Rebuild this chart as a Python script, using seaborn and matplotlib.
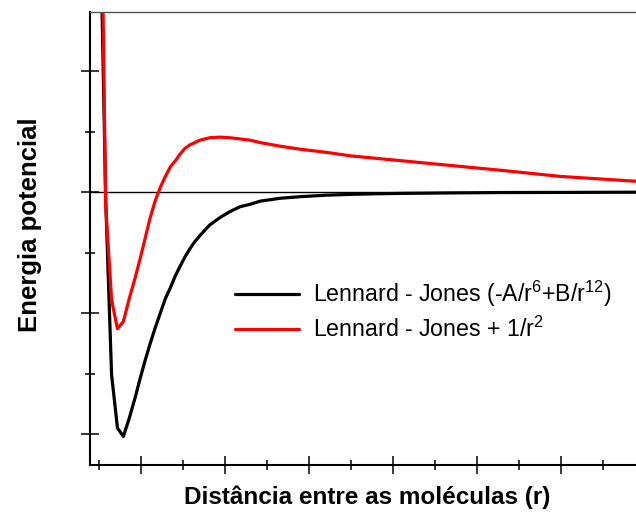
import matplotlib
matplotlib.use('Agg')
import matplotlib.pyplot as plt
from matplotlib.ticker import MultipleLocator
import seaborn as sns

# distance (arbitrary units) and potential energy
distance = [0.52, 0.58, 0.65, 0.72, 0.79, 0.86, 0.93, 0.99, 1.05, 1.11, 1.17, 1.23,
            1.29, 1.35, 1.41, 1.46, 1.52, 1.58, 1.64, 1.70, 1.82, 1.94, 2.06, 2.18,
            2.30, 2.42, 2.66, 2.90, 3.20, 3.50, 3.80, 4.10, 4.70, 5.30, 6.00, 6.90]
lj = [2.10, -0.07, -1.51, -1.95, -2.02, -1.87, -1.70, -1.54, -1.39, -1.25, -1.12, -1.00,
      -0.88, -0.79, -0.69, -0.62, -0.54, -0.47, -0.41, -0.36, -0.27, -0.21, -0.16, -0.12,
      -0.10, -0.074, -0.050, -0.037, -0.025, -0.018, -0.013, -0.010, -0.006, -0.003, -0.002, 0.0]
lj_plus = [2.96, -0.11, -0.89, -1.13, -1.07, -0.88, -0.71, -0.55, -0.38, -0.21, -0.07, 0.04,
           0.13, 0.21, 0.26, 0.31, 0.36, 0.39, 0.41, 0.43, 0.45, 0.455, 0.45, 0.44,
           0.43, 0.41, 0.38, 0.355, 0.33, 0.30, 0.28, 0.26, 0.22, 0.18, 0.13, 0.09]

lj_label = r'Lennard - Jones (-A/r$^{6}$+B/r$^{12}$)'
lj_plus_label = r'Lennard - Jones + 1/r$^{2}$'

# %%
sns.set_style('white')
plt.rcParams['font.family'] = ['Liberation Sans', 'DejaVu Sans']
plt.rcParams['text.color'] = 'black'
plt.rcParams['mathtext.fontset'] = 'custom'
plt.rcParams['mathtext.rm'] = 'Liberation Sans'
plt.rcParams['mathtext.default'] = 'regular'

fig = plt.figure(figsize=(6.36, 5.2), dpi=100)
ax = fig.add_axes([90 / 636, 1 - 465 / 520, 546 / 636, 453 / 520])

ax.axhline(0, color='black', lw=1.0, zorder=1)
sns.lineplot(x=distance, y=lj, color='black', lw=2.3, ax=ax, label=lj_label, sort=False)
sns.lineplot(x=distance, y=lj_plus, color='red', lw=2.3, ax=ax, label=lj_plus_label, sort=False)

ax.set_xlim(0.393, 6.893)
ax.set_ylim(-2.256, 1.49)

ax.xaxis.set_major_locator(MultipleLocator(1))
ax.xaxis.set_minor_locator(MultipleLocator(0.5))
ax.yaxis.set_major_locator(MultipleLocator(1))
ax.yaxis.set_minor_locator(MultipleLocator(0.5))
ax.tick_params(which='both', direction='inout', color='black', width=1.1,
               labelbottom=False, labelleft=False, bottom=True, left=True)
ax.tick_params(which='major', length=13.5)
ax.tick_params(which='minor', length=7.5)

ax.spines['right'].set_visible(False)
ax.spines['top'].set_color('#555555')
ax.spines['top'].set_linewidth(1.0)
for side in ['left', 'bottom']:
    ax.spines[side].set_color('black')
    ax.spines[side].set_linewidth(1.5)

leg = ax.legend(loc='upper left', bbox_to_anchor=(235 / 636, 1 - 279 / 520),
                bbox_transform=fig.transFigure, frameon=False, fontsize=16.7,
                handlelength=2.75, handletextpad=0.6, labelspacing=0.32,
                borderpad=0, borderaxespad=0)
for t in leg.get_texts():
    t.set_color('black')

fig.text(367 / 636, 1 - 504 / 520, 'Distância entre as moléculas (r)',
         ha='center', va='baseline', fontsize=17.5, fontweight='bold')
fig.text(30 / 636, 1 - 225 / 520, 'Energia potencial', rotation=90,
         ha='center', va='center', fontsize=18.5, fontweight='bold')

fig.savefig('out.png', dpi=100)
